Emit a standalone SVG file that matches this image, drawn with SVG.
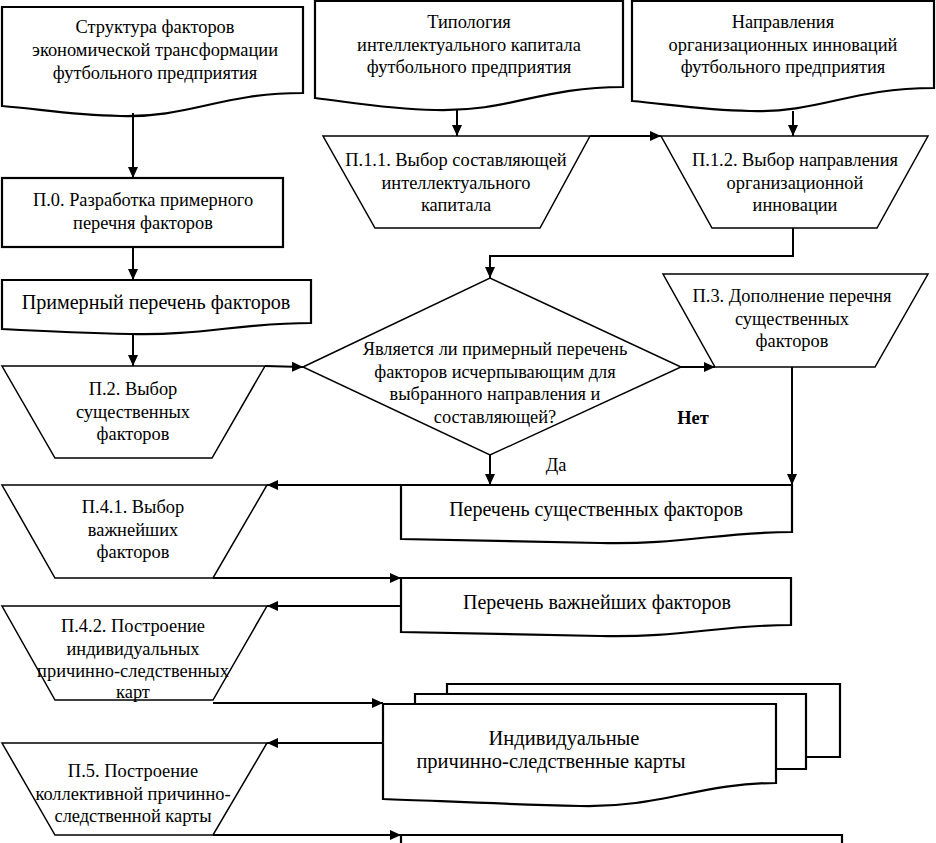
<svg xmlns="http://www.w3.org/2000/svg" width="936" height="843" viewBox="0 0 936 843">
<defs>
<marker id="arr" markerUnits="userSpaceOnUse" markerWidth="12" markerHeight="10" refX="11" refY="5" orient="auto">
<path d="M0,0 L11,5 L0,10 Z" fill="#000"/>
</marker>
<style>
.doc{fill:#fff;stroke:#000;stroke-width:2.2;stroke-linejoin:miter}
.trap{fill:#fff;stroke:#000;stroke-width:1.5}
.box{fill:#fff;stroke:#000;stroke-width:2.2}
.con{fill:none;stroke:#000;stroke-width:2;marker-end:url(#arr)}
</style>
</defs>
<rect width="936" height="843" fill="#fff"/>
<g font-family="'Liberation Serif', serif" font-size="18.4" text-anchor="middle" fill="#000">

<g id="doc1">
<path class="doc" d="M2,7 H303 V93 C220,93 190,118 120,116 C70,115 40,109 2,106 Z"/>
<text x="155" y="33" font-family="'Liberation Serif', serif" font-size="18.4">Структура факторов</text>
<text x="155" y="56" font-family="'Liberation Serif', serif" font-size="18.4">экономической трансформации</text>
<text x="155" y="79" font-family="'Liberation Serif', serif" font-size="18.4">футбольного предприятия</text>
</g>

<g id="doc2">
<path class="doc" d="M315,1 H623 V87 C540,87 510,112 435,110 C385,109 350,102 315,98 Z"/>
<text x="469" y="28" font-family="'Liberation Serif', serif" font-size="18.4">Типология</text>
<text x="469" y="51" font-family="'Liberation Serif', serif" font-size="18.4">интеллектуального капитала</text>
<text x="469" y="73" font-family="'Liberation Serif', serif" font-size="18.4">футбольного предприятия</text>
</g>

<g id="doc3">
<path class="doc" d="M632,1 H934 V88 C850,88 820,113 750,111 C700,110 668,104 632,101 Z"/>
<text x="783" y="28" font-family="'Liberation Serif', serif" font-size="18.4">Направления</text>
<text x="783" y="51" font-family="'Liberation Serif', serif" font-size="18.4">организационных инноваций</text>
<text x="783" y="73" font-family="'Liberation Serif', serif" font-size="18.4">футбольного предприятия</text>
</g>

<g id="p0">
<rect class="box" x="2" y="178" width="281" height="69"/>
<text x="143" y="206" font-family="'Liberation Serif', serif" font-size="18.4">П.0. Разработка примерного</text>
<text x="143" y="229" font-family="'Liberation Serif', serif" font-size="18.4">перечня факторов</text>
</g>

<g id="list0">
<path class="doc" d="M2,280 H311 V323 C240,323 200,336 130,334 C80,333 40,331 2,329 Z"/>
<text x="156" y="309" font-family="'Liberation Serif', serif" font-size="20.1">Примерный перечень факторов</text>
</g>

<g id="p11">
<polygon class="trap" points="323,136 590,136 540,228 375,228"/>
<text x="456" y="166" font-family="'Liberation Serif', serif" font-size="18.4">П.1.1. Выбор составляющей</text>
<text x="456" y="189" font-family="'Liberation Serif', serif" font-size="18.4">интеллектуального</text>
<text x="456" y="211" font-family="'Liberation Serif', serif" font-size="18.4">капитала</text>
</g>

<g id="p12">
<polygon class="trap" points="661,136 928,136 877,228 712,228"/>
<text x="795" y="166" font-family="'Liberation Serif', serif" font-size="18.4">П.1.2. Выбор направления</text>
<text x="795" y="189" font-family="'Liberation Serif', serif" font-size="18.4">организационной</text>
<text x="795" y="211" font-family="'Liberation Serif', serif" font-size="18.4">инновации</text>
</g>

<g id="p2">
<polygon class="trap" points="2,366 265,366 212,458 55,458"/>
<text x="133" y="395" font-family="'Liberation Serif', serif" font-size="18.4">П.2. Выбор</text>
<text x="133" y="418" font-family="'Liberation Serif', serif" font-size="18.4">существенных</text>
<text x="133" y="440" font-family="'Liberation Serif', serif" font-size="18.4">факторов</text>
</g>

<g id="decision">
<polygon class="trap" points="303,367 490,278 681,367 490,455"/>
<text x="495" y="355" font-family="'Liberation Serif', serif" font-size="18.4">Является ли примерный перечень</text>
<text x="495" y="378" font-family="'Liberation Serif', serif" font-size="18.4">факторов исчерпывающим для</text>
<text x="495" y="400" font-family="'Liberation Serif', serif" font-size="18.4">выбранного направления и</text>
<text x="495" y="423" font-family="'Liberation Serif', serif" font-size="18.4">составляющей?</text>
</g>

<g id="p3">
<polygon class="trap" points="663,274 928,274 875,367 715,367"/>
<text x="792" y="302" font-family="'Liberation Serif', serif" font-size="18.4">П.3. Дополнение перечня</text>
<text x="792" y="325" font-family="'Liberation Serif', serif" font-size="18.4">существенных</text>
<text x="792" y="347" font-family="'Liberation Serif', serif" font-size="18.4">факторов</text>
</g>

<g id="list1">
<path class="doc" d="M401,485 H792 V532 C720,532 680,545 600,543 C520,541 460,540 401,539 Z"/>
<text x="596" y="516" font-family="'Liberation Serif', serif" font-size="20">Перечень существенных факторов</text>
</g>

<g id="p41">
<polygon class="trap" points="2,485 267,485 213,578 55,578"/>
<text x="133" y="513" font-family="'Liberation Serif', serif" font-size="18.4">П.4.1. Выбор</text>
<text x="133" y="536" font-family="'Liberation Serif', serif" font-size="18.4">важнейших</text>
<text x="133" y="558" font-family="'Liberation Serif', serif" font-size="18.4">факторов</text>
</g>

<g id="list2">
<path class="doc" d="M401,578 H791 V625 C720,625 680,638 600,636 C520,634 460,633 401,632 Z"/>
<text x="597" y="609" font-family="'Liberation Serif', serif" font-size="20">Перечень важнейших факторов</text>
</g>

<g id="p42">
<polygon class="trap" points="2,606 267,606 213,700 55,700"/>
<text x="133" y="632" font-family="'Liberation Serif', serif" font-size="18.4">П.4.2. Построение</text>
<text x="133" y="655" font-family="'Liberation Serif', serif" font-size="18.4">индивидуальных</text>
<text x="133" y="677" font-family="'Liberation Serif', serif" font-size="18.4">причинно-следственных</text>
<text x="133" y="698" font-family="'Liberation Serif', serif" font-size="18.4">карт</text>
</g>

<g id="maps">
<path class="box" d="M447,694 V684 H840 V757 H806"/>
<path class="box" d="M415,704 V694 H806 V769 H776"/>
<path class="doc" d="M383,704 H776 V783 C700,783 660,808 580,806 C500,804 440,801 383,799 Z"/>
<text x="564" y="745" font-family="'Liberation Serif', serif" font-size="20.5">Индивидуальные</text>
<text x="551" y="768" font-family="'Liberation Serif', serif" font-size="20.5">причинно-следственные карты</text>
</g>

<g id="p5">
<polygon class="trap" points="2,743 267,743 213,835 55,835"/>
<text x="133" y="777" font-family="'Liberation Serif', serif" font-size="18.4">П.5. Построение</text>
<text x="133" y="800" font-family="'Liberation Serif', serif" font-size="18.4">коллективной причинно-</text>
<text x="133" y="822" font-family="'Liberation Serif', serif" font-size="18.4">следственной карты</text>
</g>

<g id="final">
<path class="box" d="M401,846 V835 H842 V846"/>
</g>

<g id="connectors">
<path class="con" d="M133,113 V178"/>
<path class="con" d="M133,247 V280"/>
<path class="con" d="M133,333 V366"/>
<path class="con" d="M457,110 V136"/>
<path class="con" d="M793,111 V136"/>
<path class="con" d="M590,136 H661"/>
<path class="con" d="M793,228 V256 H490 V278"/>
<path class="con" d="M265,366 L303,367"/>
<path class="con" d="M681,367 H715"/>
<path class="con" d="M792,367 V485"/>
<path class="con" d="M490,455 V485"/>
<path class="con" d="M401,485 H267"/>
<path class="con" d="M213,578 H401"/>
<path class="con" d="M401,606 H267"/>
<path class="con" d="M213,703 H383"/>
<path class="con" d="M383,743 H267"/>
<path class="con" d="M213,835 H401"/>
</g>

<text x="693" y="424" font-weight="bold" font-family="'Liberation Serif', serif" font-size="18.4">Нет</text>
<text x="556" y="471" font-family="'Liberation Serif', serif" font-size="18.4">Да</text>
</g>
</svg>
